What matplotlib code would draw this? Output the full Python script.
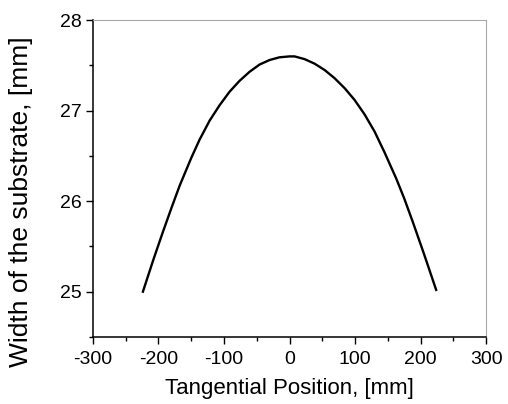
import numpy as np
import matplotlib.pyplot as plt
from matplotlib.ticker import MultipleLocator

# values
position = [-223.8, -208.0, -193.3, -180.0, -167.8, -149.9, -137.3, -122.0, -106.8,
            -91.5, -76.3, -61.0, -45.8, -30.5, -15.3, 0.0, 7.6, 22.9, 38.1, 53.4,
            68.6, 83.9, 99.1, 114.4, 129.7, 144.9, 162.8, 175.0, 188.1, 205.0, 223.7]
width = [25.00, 25.35, 25.66, 25.93, 26.17, 26.48, 26.68, 26.89, 27.06,
         27.21, 27.33, 27.43, 27.51, 27.56, 27.59, 27.60, 27.60, 27.57, 27.52, 27.45,
         27.36, 27.25, 27.12, 26.96, 26.77, 26.54, 26.25, 26.03, 25.77, 25.42, 25.02]

plt.rcParams['font.family'] = ['Liberation Sans', 'DejaVu Sans']
plt.rcParams['axes.unicode_minus'] = False

fig = plt.figure(figsize=(5.08, 4.04), dpi=100)
ax = fig.add_axes([0.183, 0.166, 0.774, 0.784])
ax.plot(position, width, color='black', lw=1.7, solid_joinstyle='round')

ax.set_xlim(-300, 300)
ax.set_ylim(24.5, 28)
ax.xaxis.set_major_locator(MultipleLocator(100))
ax.xaxis.set_minor_locator(MultipleLocator(50))
ax.yaxis.set_major_locator(MultipleLocator(1))
ax.yaxis.set_minor_locator(MultipleLocator(0.5))
ax.tick_params(which='major', direction='out', length=5, width=1, labelsize=14, color='black')
ax.tick_params(which='minor', direction='out', length=3, width=1, color='black')
ax.tick_params(axis='y', pad=3)
ax.tick_params(axis='x', pad=5)
ax.tick_params(top=False, right=False)

for s in ['top', 'right']:
    ax.spines[s].set_color('#a8a8a8')
    ax.spines[s].set_linewidth(0.8)
for s in ['left', 'bottom']:
    ax.spines[s].set_linewidth(1.1)

ax.set_xlabel('Tangential Position, [mm]', fontsize=16)
ax.set_ylabel('Width of the substrate, [mm]', fontsize=19)
ax.xaxis.set_label_coords(0.5, -0.13)
ax.yaxis.set_label_coords(-0.152, 0.426)

fig.savefig('out.png', dpi=100)
